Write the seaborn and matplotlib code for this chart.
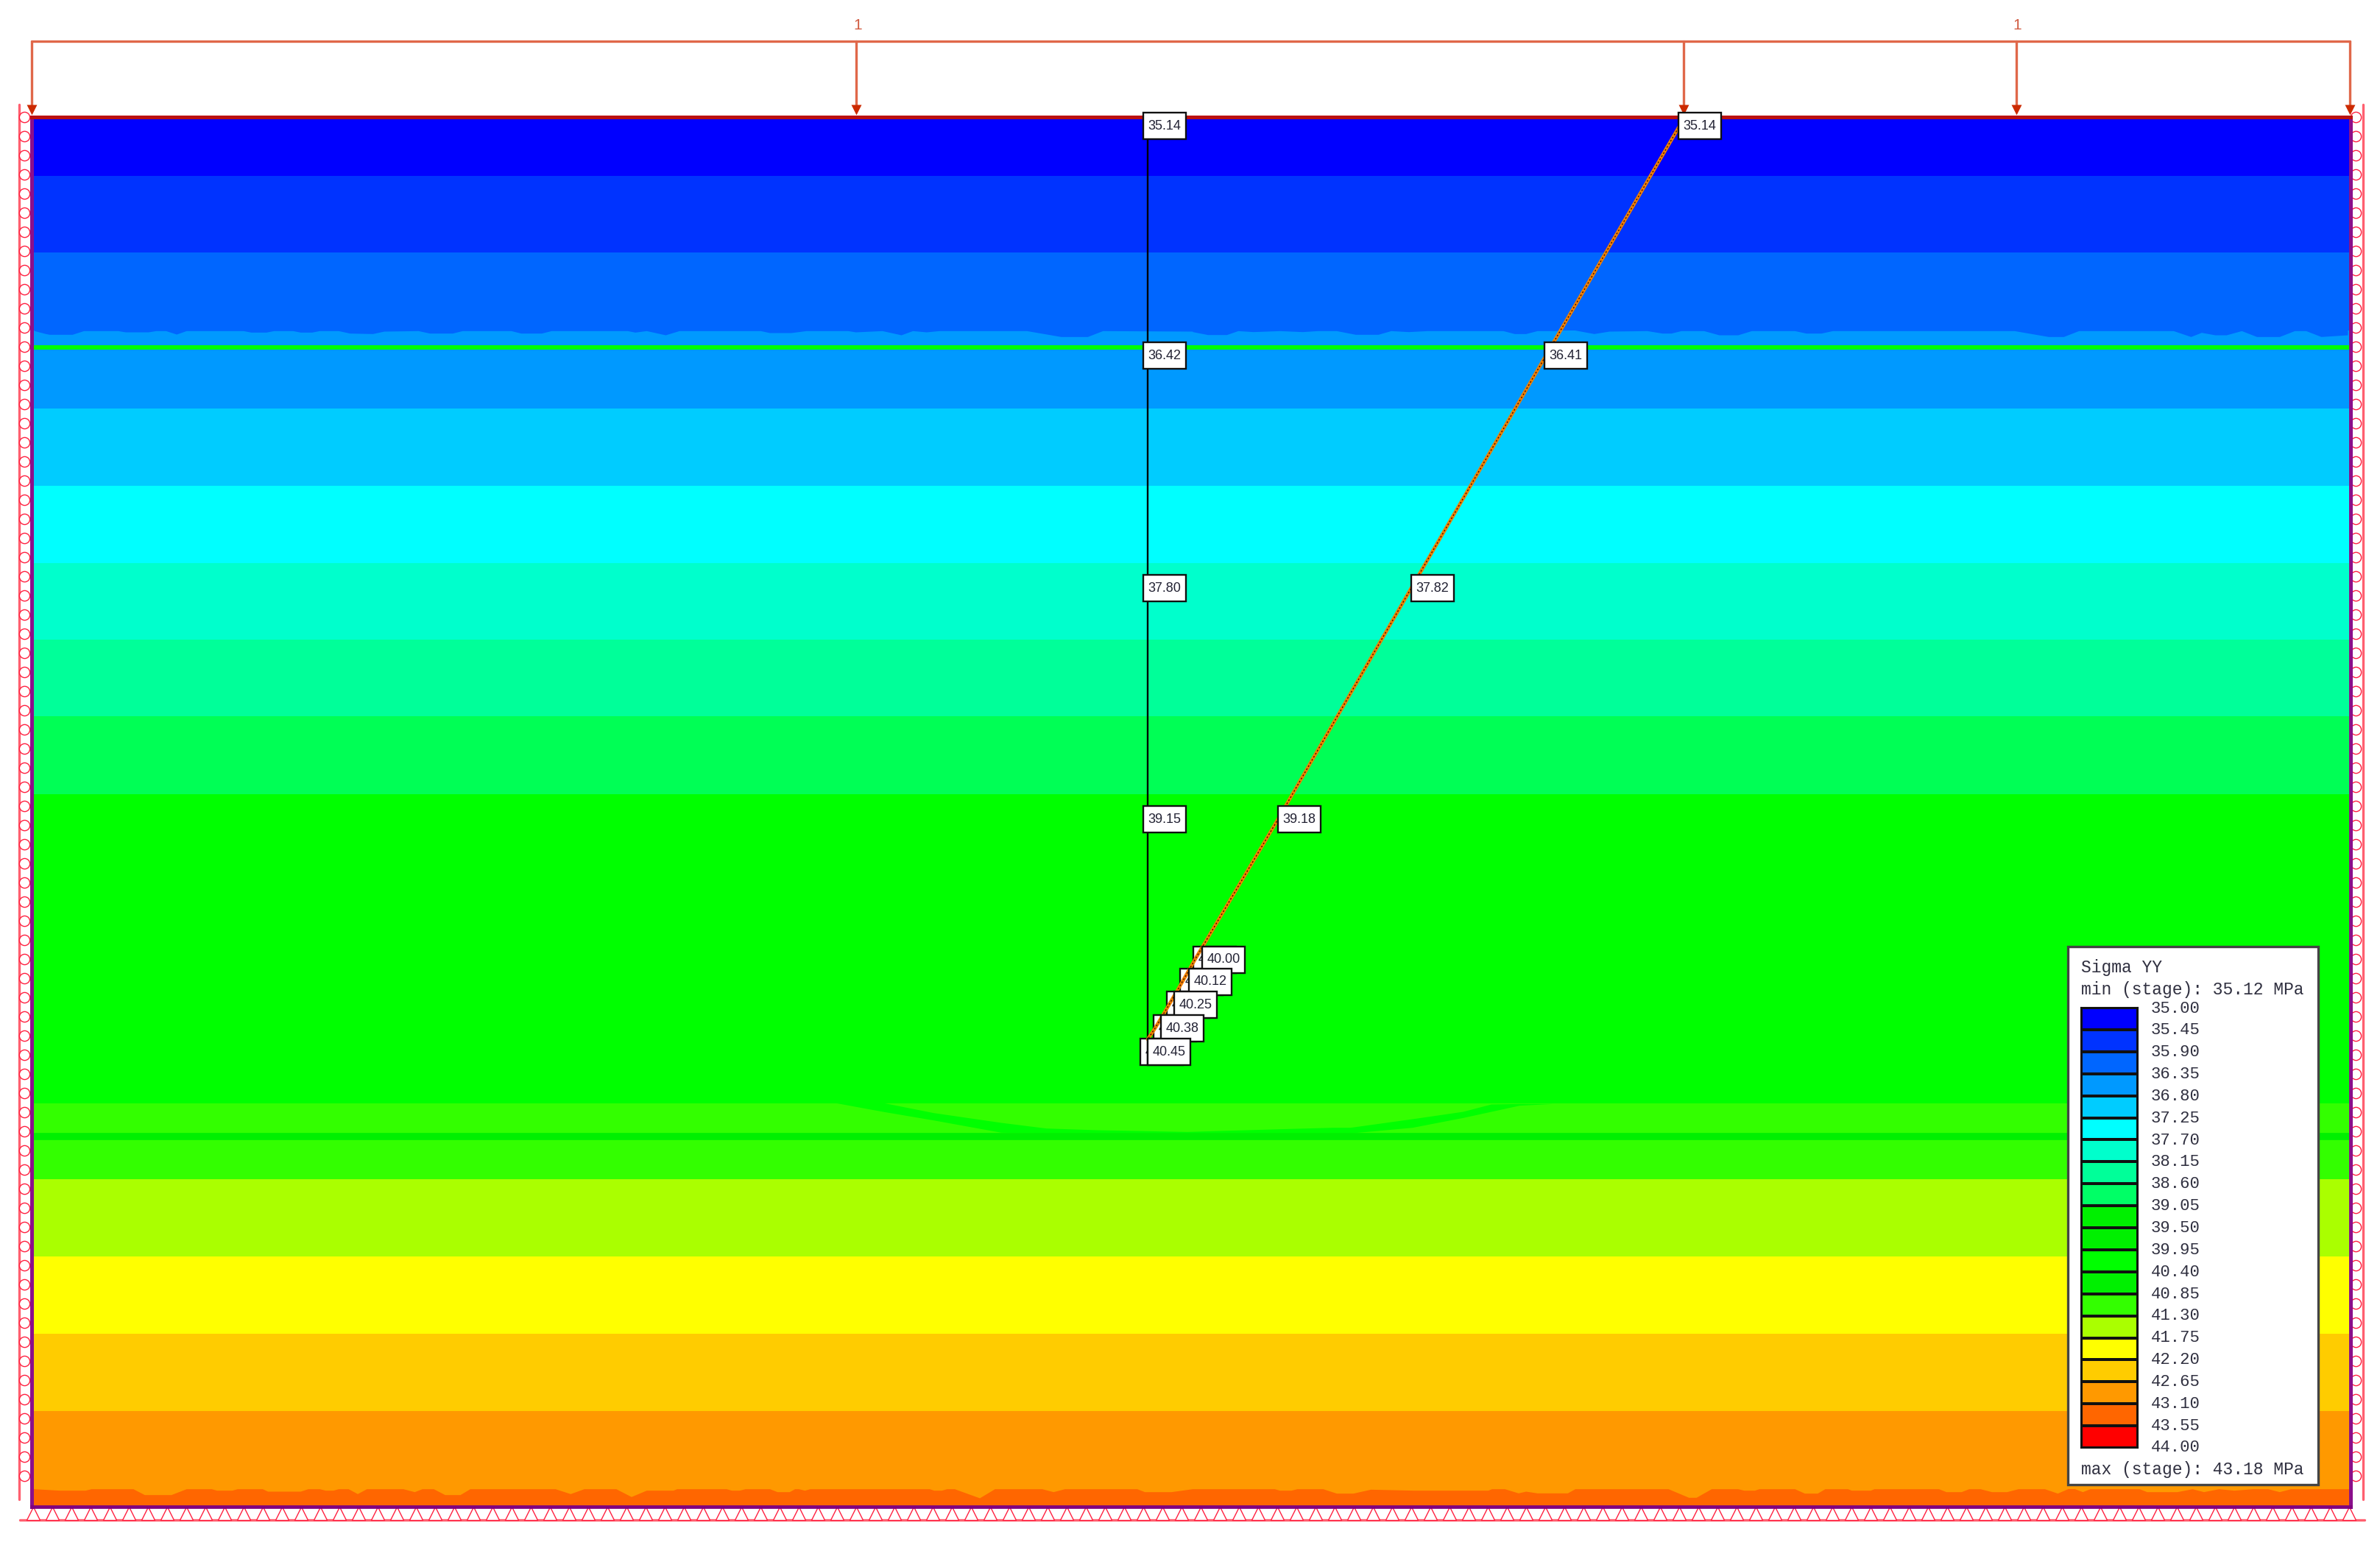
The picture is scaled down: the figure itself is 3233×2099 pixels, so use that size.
import numpy as np
import pandas as pd
import matplotlib
matplotlib.use("Agg")
import matplotlib.pyplot as plt
from matplotlib.colors import ListedColormap
from matplotlib.patches import Rectangle
import seaborn as sns

# contour bands, everything is read in picture pixels (3233 x 2099)
band_edges = [159, 239, 343, 449, 555, 660, 765, 869, 973, 1079, 1499, 1602, 1707, 1812, 1917, 2023, 2047]
band_colors = ["#0000FF", "#0033FF", "#0066FF", "#0099FF", "#00CCFF", "#00FFFF", "#00FFCC", "#00FF99",
               "#00FF55", "#00FF00", "#33FF00", "#AAFF00", "#FFFF00", "#FFCC00", "#FF9900", "#FF6600"]

wave_top_x = np.array([45, 60, 65, 95, 110, 155, 165, 195, 205, 218, 232, 245, 320, 330, 350, 360, 385, 395, 410,
                       420, 445, 460, 490, 505, 550, 565, 595, 608, 672, 685, 712, 725, 825, 835, 850, 875, 893,
                       1000, 1012, 1040, 1060, 1115, 1125, 1160, 1185, 1200, 1218, 1235, 1350, 1395, 1430, 1450,
                       1568]) / 0.968
wave_top_y = np.array([88, 100, 103, 103, 88, 88, 93, 93, 88, 88, 102, 88, 88, 94, 94, 88, 88, 94, 94,
                       88, 88, 98, 100, 90, 88, 98, 98, 88, 88, 98, 98, 88, 88, 94, 88, 105, 88,
                       88, 96, 96, 88, 88, 93, 88, 105, 88, 93, 88, 88, 112, 112, 88,
                       90]) / 3 + 420
wave_top_x2 = 1620 + np.array([0, 20, 45, 60, 80, 115, 145, 165, 190, 215, 245, 262, 285, 310, 410, 425, 440, 455,
                               480, 495, 530, 550, 600, 620, 632, 645, 675, 695, 720, 738, 795, 810, 830, 845,
                               1085, 1130, 1150, 1170, 1295, 1318, 1332, 1350, 1365, 1385, 1405, 1435, 1455, 1470,
                               1490, 1525]) / 0.972
wave_top_y2 = np.array([92, 104, 104, 88, 92, 88, 92, 88, 88, 103, 103, 88, 92, 88, 88, 100, 100, 88,
                        88, 80, 100, 90, 88, 98, 98, 88, 88, 105, 105, 88, 88, 98, 98, 88,
                        88, 112, 112, 88, 88, 112, 95, 105, 105, 88, 112, 112, 88, 88,
                        112, 105]) / 3 + 420

# wavy edge above the bottom band
wave_bot_x = np.array([45, 78, 112, 120, 175, 190, 225, 245, 278, 285, 305, 312, 345, 352, 395, 405, 420, 428, 438,
                       445, 458, 470, 482, 530, 545, 555, 570, 585, 605, 618, 730, 750, 768, 810, 830, 850, 885,
                       890, 955, 962, 972, 980, 1012, 1022, 1038, 1045, 1050, 1058, 1065, 1222, 1228, 1238, 1245,
                       1255, 1288, 1308, 1370, 1385, 1400, 1495, 1505, 1540, 1568]) / 0.968
wave_bot_y = np.array([68, 74, 74, 68, 68, 92, 92, 68, 68, 74, 74, 68, 68, 78, 78, 68, 68, 74, 74,
                       68, 68, 88, 68, 68, 80, 68, 68, 92, 92, 68, 68, 88, 68, 68, 100, 74, 74,
                       68, 68, 74, 74, 68, 68, 80, 80, 68, 68, 74, 68, 68, 74, 74, 68,
                       68, 105, 68, 68, 80, 68, 68, 80, 80, 68]) / 3 + 2000
wave_bot_x2 = 1620 + np.array([0, 108, 115, 130, 138, 172, 190, 212, 235, 292, 390, 395, 412, 430, 440, 455, 495, 505,
                               628, 655, 665, 685, 720, 728, 742, 748, 795, 808, 825, 835, 865, 870, 895, 900, 985,
                               995, 1015, 1025, 1040, 1055, 1075, 1090, 1125, 1142, 1160, 1175, 1185, 1250, 1260,
                               1300, 1320, 1335, 1355, 1375, 1400, 1420, 1435, 1450, 1530]) / 0.972
wave_bot_y2 = np.array([68, 68, 74, 74, 68, 68, 86, 86, 70, 74, 74, 68, 68, 85, 78, 85, 85, 68,
                        68, 103, 103, 68, 68, 74, 74, 68, 68, 86, 86, 68, 68, 74, 74, 68, 68,
                        80, 80, 68, 68, 80, 80, 68, 68, 86, 62, 80, 68, 68, 80,
                        80, 68, 80, 68, 74, 68, 68, 80, 68, 68]) / 3 + 2000

# darker V shape in the band near the lower interface
vee_x = 1000 + np.array([170, 260, 350, 470, 550, 640, 800, 980, 1060, 1090, 1200, 1290, 1340, 1390, 1450]) / 1.3067
vee_top = 1460 + np.array([112, 114, 155, 195, 218, 225, 232, 220, 215, 215, 180, 150, 120, 118, 118]) / 3
vee_bot = 1460 + np.array([112, 150, 185, 235, 238, 238, 238, 238, 238, 238, 215, 175, 150, 125, 118]) / 3

# query lines
profile_y = [165, 483, 799, 1113, 1304, 1334, 1365, 1397, 1412]
left_line_x = [1559, 1559]
left_line_y = [165, 1447]
right_line_x = [2285, 2100, 1917, 1736, 1623, 1606, 1588, 1569, 1559]

# value boxes along the lines
left_labels = ["35.14", "36.42", "37.80", "39.15"]
left_box_x = [1553, 1553, 1553, 1553]
left_box_y = [171, 483, 799, 1113]
right_labels = ["35.14", "36.41", "37.82", "39.18", "40.00", "40.12", "40.25", "40.38", "40.45"]
right_box_x = [2280, 2098, 1917, 1736, 1633, 1615, 1595, 1577, 1559]
right_box_y = [171, 483, 799, 1113, 1304, 1334, 1365, 1397, 1429]
hidden_labels = ["40.00", "40.12", "40.25", "40.38", "40.45"]
hidden_box_x = [1621, 1603, 1585, 1567, 1549]
hidden_box_y = [1304, 1334, 1365, 1397, 1429]

# loads and supports
load_x = [43, 1163, 2287, 2739, 3192]
load_text_x = [1165, 2740]
load_text = ["1", "1"]
support_y = np.arange(159, 2030, 26)
pin_x = np.arange(45, 3200, 26)

# legend
legend_values = ["35.00", "35.45", "35.90", "36.35", "36.80", "37.25", "37.70", "38.15", "38.60", "39.05", "39.50",
                 "39.95", "40.40", "40.85", "41.30", "41.75", "42.20", "42.65", "43.10", "43.55", "44.00"]
legend_colors = ["#0000FF", "#0033FF", "#0066FF", "#0099FF", "#00CCFF", "#00FFFF", "#00FFCC", "#00FF99", "#00FF66",
                 "#00F000", "#00F000", "#00FF00", "#00F000", "#33FF00", "#AAFF00", "#FFFF00", "#FFCC00", "#FF9900",
                 "#FF6600", "#FF0000"]
legend_title = "Sigma YY"
legend_min = "min (stage): 35.12 MPa"
legend_max = "max (stage): 43.18 MPa"

W, H = 3233, 2099
sns.set_theme(style="white")
plt.rcParams['font.family'] = ['Liberation Sans', 'DejaVu Sans']

fig = plt.figure(figsize=(W / 100, H / 100), dpi=100)
ax = fig.add_axes([0, 0, 1, 1])

# flat bands first, then the wavy parts over them
left, right = 43, 3193
for i, col in enumerate(band_colors):
    ax.fill_between([left, right], band_edges[i], band_edges[i + 1], color=col, lw=0, zorder=1)

top_x = np.concatenate([wave_top_x, wave_top_x2])
top_y = np.concatenate([wave_top_y, wave_top_y2])
bot_x = np.concatenate([wave_bot_x, wave_bot_x2])
bot_y = np.concatenate([wave_bot_y, wave_bot_y2])
ax.fill_between(top_x, 440, top_y, color="#0066FF", lw=0, zorder=1.2)
ax.fill_between(bot_x, 2010, bot_y, color="#FF9900", lw=0, zorder=1.2)
ax.fill_between(vee_x, vee_top, vee_bot, color="#00FF00", lw=0, zorder=1.2)

# green interfaces
ax.plot([left, right], [472, 472], color="#00FF00", lw=4.3, solid_capstyle="butt", zorder=2)
ax.plot([left, right], [1544, 1544], color="#00F000", lw=7, solid_capstyle="butt", zorder=2)

# query lines
sns.lineplot(x=left_line_x, y=left_line_y, color="black", lw=1.7, sort=False, estimator=None, ax=ax, zorder=6)
sns.lineplot(x=right_line_x, y=profile_y, color="#F08000", lw=3.4, sort=False, estimator=None, ax=ax, zorder=6)
sns.lineplot(x=right_line_x, y=profile_y, color="#401000", lw=1.0, sort=False, estimator=None, ax=ax, zorder=6.1,
             linestyle=(0, (1.5, 2)))


def value_box(x, y, txt, z):
    ax.add_patch(Rectangle((x, y - 18), 58, 36, fc="white", ec="#111111", lw=1.7, zorder=z))
    ax.text(x + 29, y, txt, ha="center", va="center", fontsize=13, color="#222233", zorder=z + 0.1)


for x, y, t in zip(hidden_box_x, hidden_box_y, hidden_labels):
    value_box(x, y, t, 5)
for x, y, t in zip(left_box_x, left_box_y, left_labels):
    value_box(x, y, t, 7)
for x, y, t in zip(right_box_x, right_box_y, right_labels):
    value_box(x, y, t, 7)

# supports on the sides and the bottom
ax.plot([26, 26], [142, 2037], color="#FF6070", lw=2.4, zorder=3)
ax.plot([3210, 3210], [142, 2037], color="#FF6070", lw=2.4, zorder=3)
ax.plot([27, 3212], [2065, 2065], color="#FF6070", lw=2.4, zorder=3)
for sx in [33, 3200]:
    sns.scatterplot(x=np.full(len(support_y), sx), y=support_y, s=105, color="white", edgecolor="#FF2040",
                    linewidth=1.0, legend=False, ax=ax, zorder=3)
sns.scatterplot(x=pin_x, y=np.full(len(pin_x), 2056), marker="^", s=170, color="white", edgecolor="#FF2040",
                linewidth=1.0, legend=False, ax=ax, zorder=3)

# domain border
ax.plot([left, left], [159, 2047], color="#8B0F8B", lw=3.6, solid_capstyle="projecting", zorder=4)
ax.plot([right, right], [159, 2047], color="#8B0F8B", lw=3.6, solid_capstyle="projecting", zorder=4)
ax.plot([left, right], [2047, 2047], color="#800080", lw=3.4, solid_capstyle="projecting", zorder=4)
ax.plot([left, right], [159, 159], color="#BB1111", lw=3.6, solid_capstyle="projecting", zorder=4)

# distributed load on top
ax.plot([load_x[0], load_x[-1]], [56, 56], color="#E0684A", lw=2.4, zorder=3)
for lx in load_x:
    ax.plot([lx, lx], [56, 145], color="#E0684A", lw=2.4, zorder=3)
sns.scatterplot(x=load_x, y=[149] * len(load_x), marker="v", s=100, color="#CC2A00", linewidth=0, legend=False,
                ax=ax, zorder=4)
for lx, t in zip(load_text_x, load_text):
    ax.text(lx, 35, t, ha="center", va="center", fontsize=15, color="#D05A40")

# legend box
ax.add_patch(Rectangle((2809, 1286), 340, 731, fc="white", ec="#444444", lw=2.4, zorder=8))
mono = ['Liberation Mono', 'DejaVu Sans Mono']
ax.text(2827, 1314, legend_title, family=mono, fontsize=16.6, color="#303040", va="center", zorder=9)
ax.text(2827, 1344, legend_min, family=mono, fontsize=16.6, color="#303040", va="center", zorder=9)
ax.text(2827, 1996, legend_max, family=mono, fontsize=16.6, color="#303040", va="center", zorder=9)
ys = np.linspace(1370, 1967, len(legend_values))
for y, t in zip(ys, legend_values):
    ax.text(2922, y, t, family=mono, fontsize=16, color="#303040", va="center", zorder=9)

ax.set_xlim(0, W)
ax.set_ylim(H, 0)
ax.axis("off")

# colour swatches
cax = fig.add_axes([2827 / W, 1 - 1967 / H, 77 / W, 598 / H])
sns.heatmap(pd.DataFrame(np.arange(len(legend_colors))), cmap=ListedColormap(legend_colors), cbar=False,
            linewidths=1.5, linecolor="#111111", xticklabels=False, yticklabels=False, ax=cax)
for s in cax.spines.values():
    s.set_visible(True)
    s.set_color("#111111")
    s.set_linewidth(1.5)

fig.savefig("out.png", dpi=100, facecolor="white")
